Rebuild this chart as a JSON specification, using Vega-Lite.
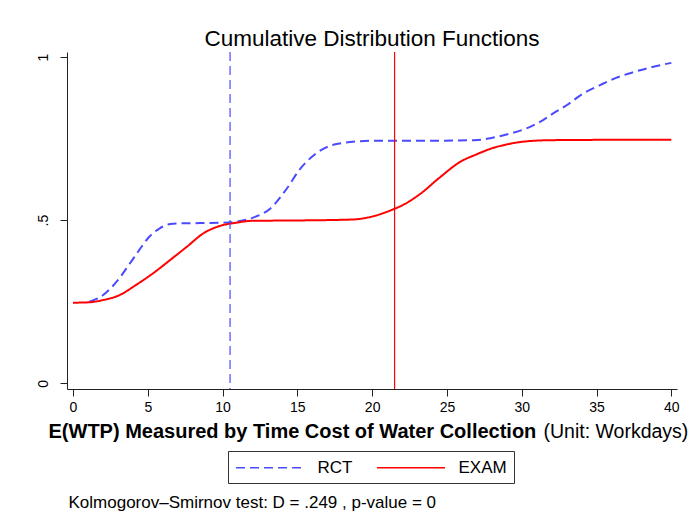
{
  "$schema": "https://vega.github.io/schema/vega-lite/v6.json",
  "width": 610,
  "height": 337,
  "autosize": {"type": "none"},
  "padding": {"left": 67, "top": 52, "right": 12, "bottom": 127},
  "background": "white",
  "config": {"view": {"stroke": null}, "font": "Liberation Sans", "axis": {"grid": false}},
  "title": {"text": "Cumulative Distribution Functions", "frame": "group", "anchor": "middle", "fontSize": 22.5, "fontWeight": "normal", "font": "Liberation Sans", "color": "#000", "offset": 1},
  "datasets": {
    "curves": [
      {"group": "RCT", "x": 1.1, "y": 0.25},
      {"group": "RCT", "x": 2.0, "y": 0.27},
      {"group": "RCT", "x": 3.0, "y": 0.316},
      {"group": "RCT", "x": 3.8, "y": 0.367},
      {"group": "RCT", "x": 4.5, "y": 0.413},
      {"group": "RCT", "x": 5.1, "y": 0.449},
      {"group": "RCT", "x": 5.8, "y": 0.475},
      {"group": "RCT", "x": 6.5, "y": 0.488},
      {"group": "RCT", "x": 7.1, "y": 0.49},
      {"group": "RCT", "x": 8.5, "y": 0.491},
      {"group": "RCT", "x": 10.0, "y": 0.492},
      {"group": "RCT", "x": 11.0, "y": 0.496},
      {"group": "RCT", "x": 12.0, "y": 0.507},
      {"group": "RCT", "x": 13.2, "y": 0.536},
      {"group": "RCT", "x": 14.3, "y": 0.597},
      {"group": "RCT", "x": 15.2, "y": 0.658},
      {"group": "RCT", "x": 16.1, "y": 0.699},
      {"group": "RCT", "x": 17.2, "y": 0.728},
      {"group": "RCT", "x": 18.7, "y": 0.74},
      {"group": "RCT", "x": 19.9, "y": 0.743},
      {"group": "RCT", "x": 23.0, "y": 0.743},
      {"group": "RCT", "x": 26.8, "y": 0.745},
      {"group": "RCT", "x": 28.0, "y": 0.752},
      {"group": "RCT", "x": 29.2, "y": 0.765},
      {"group": "RCT", "x": 30.3, "y": 0.781},
      {"group": "RCT", "x": 31.4, "y": 0.806},
      {"group": "RCT", "x": 32.1, "y": 0.827},
      {"group": "RCT", "x": 33.0, "y": 0.852},
      {"group": "RCT", "x": 34.1, "y": 0.888},
      {"group": "RCT", "x": 35.2, "y": 0.913},
      {"group": "RCT", "x": 36.3, "y": 0.936},
      {"group": "RCT", "x": 37.5, "y": 0.954},
      {"group": "RCT", "x": 38.6, "y": 0.968},
      {"group": "RCT", "x": 40.0, "y": 0.982},
      {"group": "EXAM", "x": 0.0, "y": 0.247},
      {"group": "EXAM", "x": 1.0, "y": 0.248},
      {"group": "EXAM", "x": 2.0, "y": 0.255},
      {"group": "EXAM", "x": 3.1, "y": 0.27},
      {"group": "EXAM", "x": 4.2, "y": 0.301},
      {"group": "EXAM", "x": 5.35, "y": 0.337},
      {"group": "EXAM", "x": 6.5, "y": 0.378},
      {"group": "EXAM", "x": 7.6, "y": 0.418},
      {"group": "EXAM", "x": 8.7, "y": 0.459},
      {"group": "EXAM", "x": 9.8, "y": 0.482},
      {"group": "EXAM", "x": 10.9, "y": 0.492},
      {"group": "EXAM", "x": 12.0, "y": 0.498},
      {"group": "EXAM", "x": 15.0, "y": 0.499},
      {"group": "EXAM", "x": 18.7, "y": 0.502},
      {"group": "EXAM", "x": 19.9, "y": 0.51},
      {"group": "EXAM", "x": 21.4, "y": 0.533},
      {"group": "EXAM", "x": 22.0, "y": 0.545},
      {"group": "EXAM", "x": 23.2, "y": 0.58},
      {"group": "EXAM", "x": 24.5, "y": 0.63},
      {"group": "EXAM", "x": 25.9, "y": 0.679},
      {"group": "EXAM", "x": 27.0, "y": 0.702},
      {"group": "EXAM", "x": 28.0, "y": 0.72},
      {"group": "EXAM", "x": 29.0, "y": 0.732},
      {"group": "EXAM", "x": 30.0, "y": 0.74},
      {"group": "EXAM", "x": 31.9, "y": 0.745},
      {"group": "EXAM", "x": 35.0, "y": 0.746},
      {"group": "EXAM", "x": 40.0, "y": 0.746}
    ],
    "cuts": [
      {"group": "RCT", "x": 10.5},
      {"group": "EXAM", "x": 21.5}
    ]
  },
  "layer": [
    {
      "data": {"name": "curves"},
      "mark": {"type": "line", "strokeWidth": 2, "interpolate": "monotone"},
      "encoding": {
        "x": {
          "field": "x", "type": "quantitative",
          "scale": {"domain": [-0.4, 40.38], "nice": false, "zero": false},
          "axis": {
            "values": [0, 5, 10, 15, 20, 25, 30, 35, 40], "format": "d",
            "tickSize": 7, "labelPadding": 15.7, "labelBaseline": "alphabetic", "labelFlush": false,
            "labelFontSize": 14, "labelAngle": 0, "labelColor": "#000",
            "domainColor": "#222", "tickColor": "#222",
            "title": "E(WTP) Measured by Time Cost of Water Collection",
            "titleFontWeight": "bold", "titleFontSize": 20, "titleColor": "#000",
            "titleX": -19, "titleY": 48, "titleAlign": "left", "titleBaseline": "alphabetic"
          }
        },
        "y": {
          "field": "y", "type": "quantitative",
          "scale": {"domain": [-0.0175, 1.0153], "nice": false, "zero": false},
          "axis": {
            "values": [0, 0.5, 1],
            "labelExpr": "datum.value == 0.5 ? '.5' : (datum.value == 1 ? '1' : '0')",
            "labelAngle": -90, "labelAlign": "center", "labelBaseline": "alphabetic",
            "labelPadding": 13, "tickSize": 7, "labelFontSize": 14, "labelColor": "#000",
            "domainColor": "#222", "tickColor": "#222",
            "title": "Kolmogorov–Smirnov test: D = .249 , p-value = 0",
            "titleAngle": 0, "titleX": 1, "titleY": 455, "titleAlign": "left",
            "titleBaseline": "alphabetic", "titleFontSize": 17, "titleFontWeight": "normal", "titleColor": "#000"
          }
        },
        "color": {
          "field": "group", "type": "nominal",
          "scale": {"domain": ["RCT", "EXAM"], "range": ["#4a4aff", "#ff0000"]},
          "legend": {
            "orient": "none", "legendX": 161, "legendY": 399, "direction": "horizontal",
            "title": null, "strokeColor": "#333", "padding": 7,
            "labelFontSize": 17, "labelColor": "#000", "symbolSize": 289, "symbolStrokeWidth": 1.5,
            "symbolType": "M0,0H8", "symbolOffset": -8.5,
            "labelOffset": 72, "columnPadding": 21
          }
        },
        "strokeDash": {
          "field": "group", "type": "nominal",
          "scale": {"domain": ["RCT", "EXAM"], "range": [[9, 5], [1, 0]]}
        }
      }
    },
    {
      "data": {"name": "cuts"},
      "mark": {"type": "rule", "strokeWidth": 1.2},
      "encoding": {
        "x": {
          "field": "x", "type": "quantitative",
          "scale": {"domain": [-0.4, 40.38], "nice": false, "zero": false},
          "axis": {
            "orient": "bottom", "labels": false, "ticks": false, "domain": false, "grid": false,
            "title": "(Unit: Workdays)", "titleFontWeight": "normal", "titleFontSize": 19.5, "titleColor": "#000",
            "titleX": 476, "titleY": 48, "titleAlign": "left", "titleBaseline": "alphabetic"
          }
        },
        "color": {"field": "group", "type": "nominal"},
        "strokeDash": {"field": "group", "type": "nominal"}
      }
    }
  ],
  "resolve": {"scale": {"x": "independent"}, "axis": {"x": "independent"}}
}
